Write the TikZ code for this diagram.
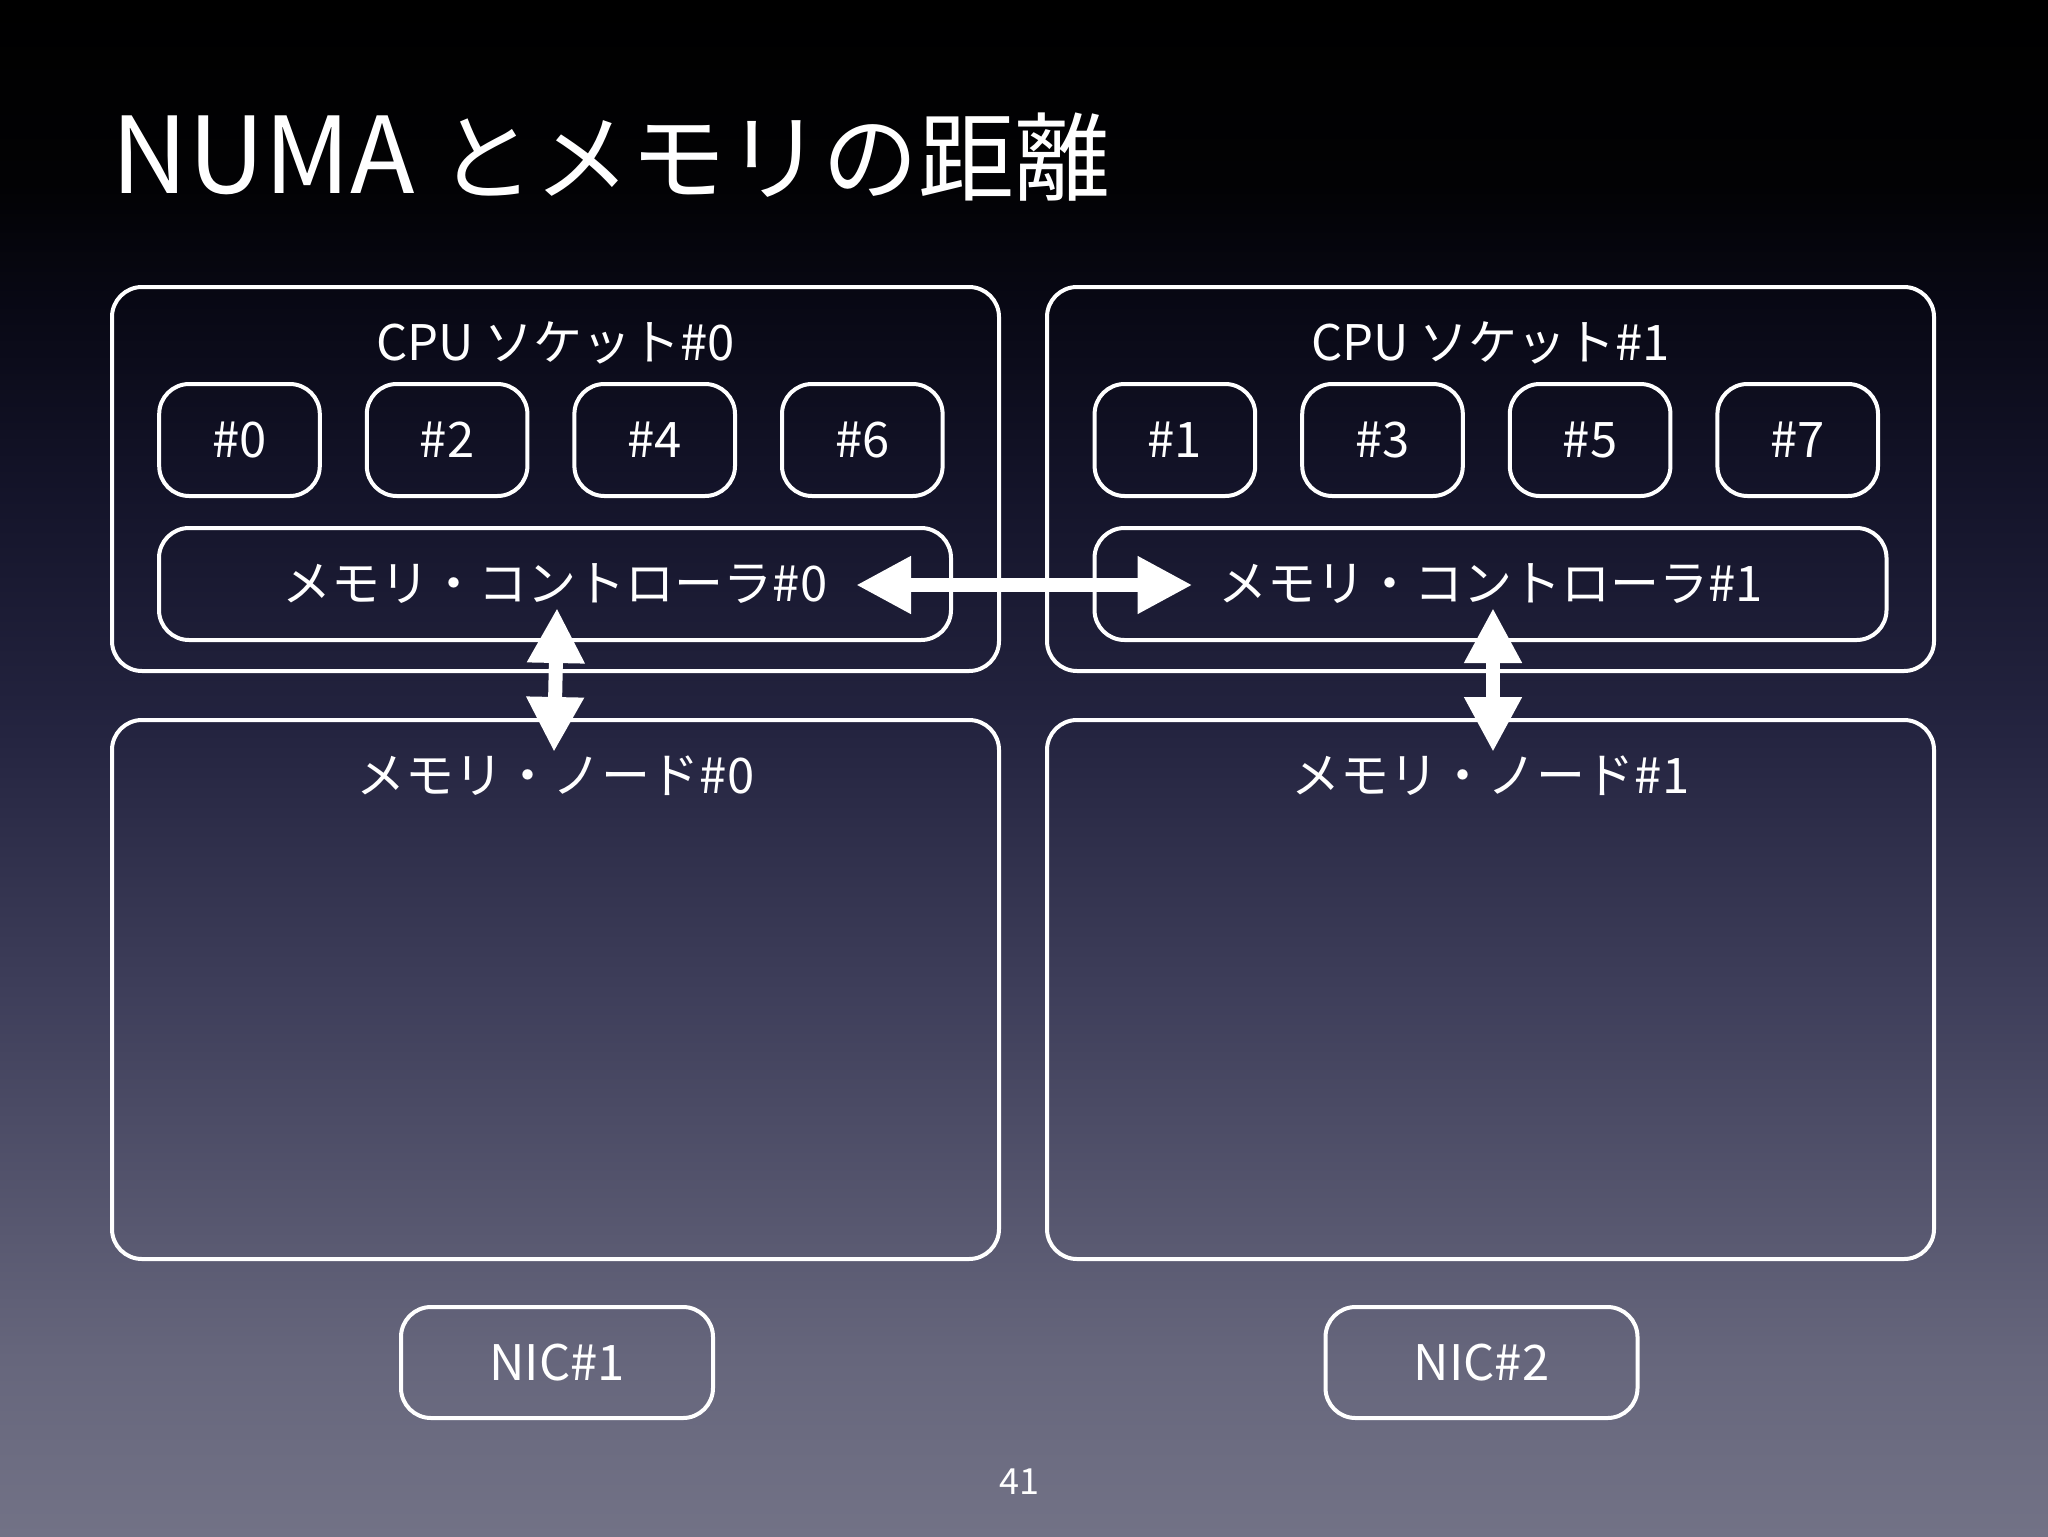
\documentclass[tikz,border=0pt]{standalone}
\usepackage{fontspec}
\setmainfont{Noto Sans CJK JP}
\usepackage{tikz}
\usetikzlibrary{positioning,arrows.meta,calc}
\usepackage{xcolor}
\definecolor{bg0}{RGB}{114,114,134}
\definecolor{bg1}{RGB}{102,102,124}
\definecolor{bg2}{RGB}{62,62,90}
\definecolor{bg3}{RGB}{36,36,64}
\definecolor{bg4}{RGB}{20,20,42}
\definecolor{bg5}{RGB}{8,8,20}
\definecolor{bg6}{RGB}{2,2,4}
% stops squeezed into 25bp--75bp, the part TikZ maps onto the path
\pgfdeclareverticalshading{slidebg}{100bp}{color(0bp)=(bg0); color(25bp)=(bg0); color(30.79bp)=(bg1); color(42.71bp)=(bg2); color(51.17bp)=(bg3); color(58.85bp)=(bg4); color(65.23bp)=(bg5); color(69.01bp)=(bg6); color(75bp)=(black); color(100bp)=(black)}
\tikzset{
  box/.style={draw=white,line width=2pt,rounded corners=15pt,outer sep=0pt,inner sep=0pt},
  core/.style={box,minimum width=80.3pt,minimum height=56pt,font=\fontsize{24.5}{28}\selectfont,text=white},
  socket/.style={box,minimum width=443.5pt,minimum height=192pt},
  memnode/.style={box,minimum width=443.5pt,minimum height=269.5pt},
  ctrl/.style={box,minimum width=396pt,minimum height=56pt,font=\fontsize{24.5}{28}\selectfont,text=white},
  nic/.style={box,minimum width=156pt,minimum height=55.5pt,font=\fontsize{24.5}{28}\selectfont,text=white},
  boxlabel/.style={text=white,font=\fontsize{24.5}{28}\selectfont,inner sep=0pt},
  dbl/.style={draw=white,line width=7pt,{Triangle[length=27.5pt,width=27pt]}-{Triangle[length=27.5pt,width=27pt]}},
}
\begin{document}
\begin{tikzpicture}[x=0.5pt,y=-0.5pt,node distance=23.5pt]

\useasboundingbox (0,0) rectangle (2048,1536);
\shade[shading=slidebg] (0,0) rectangle (2048,1536);

% title
\node[anchor=base west,text=white,inner sep=0pt,font=\fontsize{53}{60}\selectfont] (title) at (111,193) {NUMA {\fontsize{48}{56}\selectfont とメモリの距離}};

% sockets
\node[socket] (sock0) at (555.5,479) {};
\node[socket] (sock1) at (1490.5,479) {};
\node[boxlabel] (sock0l) at ($(sock0.north)+(0,56)$) {CPU ソケット\#0};
\node[boxlabel] (sock1l) at ($(sock1.north)+(0,56)$) {CPU ソケット\#1};

% cores
\node[core] (c0) at (239.5,440) {\#0};
\node[core,right=of c0] (c2) {\#2};
\node[core,right=of c2] (c4) {\#4};
\node[core,right=of c4] (c6) {\#6};

\node[core] (c1) at (1174.9,440) {\#1};
\node[core,right=of c1] (c3) {\#3};
\node[core,right=of c3] (c5) {\#5};
\node[core,right=of c5] (c7) {\#7};

% memory controllers
\node[ctrl] (mc0) at (555,584) {メモリ・コントローラ\#0};
\node[ctrl] (mc1) at (1490.5,584) {メモリ・コントローラ\#1};

% memory nodes
\node[memnode] (mem0) at (555.5,989.5) {};
\node[memnode] (mem1) at (1490.5,989.5) {};
\node[boxlabel] (mem0l) at ($(mem0.north)+(0,56)$) {メモリ・ノード\#0};
\node[boxlabel] (mem1l) at ($(mem1.north)+(0,56)$) {メモリ・ノード\#1};

% NICs
\node[nic] (nic1) at (557,1362.5) {NIC\#1};
\node[nic] (nic2) at (1481.5,1362.5) {NIC\#2};

% page number
\node[text=white,inner sep=0pt,font=\fontsize{18}{20}\selectfont] (page) at (1019,1482) {41};

% arrows
\coordinate (h0) at ($(mc0.east)+(-95,1)$);
\coordinate (h1) at ($(mc1.west)+(98,1)$);
\coordinate (v0t) at ($(mc0.south)+(2,-32)$);
\coordinate (v0b) at ($(mem0.north)+(-1.5,32)$);
\coordinate (v1t) at ($(mc1.south)+(2.5,-32)$);
\coordinate (v1b) at ($(mem1.north)+(2.5,32)$);

\draw[dbl] (h0) -- (h1);
\draw[dbl] (v0t) -- (v0b);
\draw[dbl] (v1t) -- (v1b);

\end{tikzpicture}
\end{document}
